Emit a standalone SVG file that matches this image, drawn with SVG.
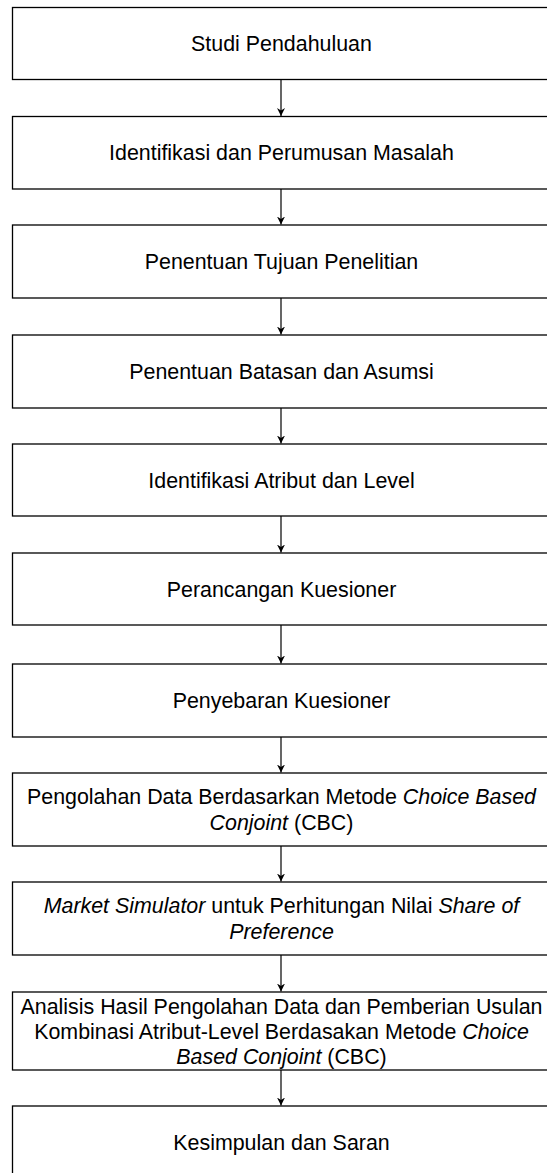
<svg xmlns="http://www.w3.org/2000/svg" width="547" height="1173" viewBox="0 0 547 1173">
<style>
.box{fill:#fff;stroke:#000;stroke-width:1.3}
.t{font-family:"Liberation Sans",Arial,sans-serif;font-size:21.4px;fill:#000;text-anchor:middle}
.i{font-style:italic}
.c{stroke:#000;stroke-width:1.2;fill:none}
</style>
<defs>
<marker id="ah" viewBox="0 0 10 10" refX="10" refY="5" markerWidth="8" markerHeight="8" markerUnits="userSpaceOnUse" orient="auto">
<path d="M0,0 L10,5 L0,10 L3,5 Z" fill="#000"/>
</marker>
</defs>
<rect width="547" height="1173" fill="#fff"/>
<g id="connectors">
<line class="c" x1="281" y1="79.5" x2="281" y2="116" marker-end="url(#ah)"/>
<line class="c" x1="281" y1="189" x2="281" y2="224.5" marker-end="url(#ah)"/>
<line class="c" x1="281" y1="298" x2="281" y2="334.5" marker-end="url(#ah)"/>
<line class="c" x1="281" y1="408" x2="281" y2="443.5" marker-end="url(#ah)"/>
<line class="c" x1="281" y1="516" x2="281" y2="552.5" marker-end="url(#ah)"/>
<line class="c" x1="281" y1="625" x2="281" y2="663.5" marker-end="url(#ah)"/>
<line class="c" x1="281" y1="737" x2="281" y2="772.5" marker-end="url(#ah)"/>
<line class="c" x1="281" y1="846" x2="281" y2="881.5" marker-end="url(#ah)"/>
<line class="c" x1="281" y1="955" x2="281" y2="991.5" marker-end="url(#ah)"/>
<line class="c" x1="281" y1="1070" x2="281" y2="1105.5" marker-end="url(#ah)"/>
</g>
<g id="n1"><rect class="box" x="12.5" y="7.5" width="540" height="72"/><text class="t" x="281.5" y="51">Studi Pendahuluan</text></g>
<g id="n2"><rect class="box" x="12.5" y="116.5" width="540" height="72.5"/><text class="t" x="281.5" y="160.3">Identifikasi dan Perumusan Masalah</text></g>
<g id="n3"><rect class="box" x="12.5" y="225" width="540" height="73"/><text class="t" x="281.5" y="269">Penentuan Tujuan Penelitian</text></g>
<g id="n4"><rect class="box" x="12.5" y="335" width="540" height="73"/><text class="t" x="281.5" y="379">Penentuan Batasan dan Asumsi</text></g>
<g id="n5"><rect class="box" x="12.5" y="444" width="540" height="72"/><text class="t" x="281.5" y="487.5">Identifikasi Atribut dan Level</text></g>
<g id="n6"><rect class="box" x="12.5" y="553" width="540" height="72"/><text class="t" x="281.5" y="596.5">Perancangan Kuesioner</text></g>
<g id="n7"><rect class="box" x="12.5" y="664" width="540" height="73"/><text class="t" x="281.5" y="708">Penyebaran Kuesioner</text></g>
<g id="n8"><rect class="box" x="12.5" y="773" width="540" height="73"/>
<text class="t" x="281.5" y="804.4">Pengolahan Data Berdasarkan Metode <tspan class="i">Choice Based</tspan></text>
<text class="t" x="281.5" y="829.6"><tspan class="i">Conjoint</tspan> (CBC)</text></g>
<g id="n9"><rect class="box" x="12.5" y="882" width="540" height="73"/>
<text class="t" x="281.5" y="913.4"><tspan class="i">Market Simulator</tspan> untuk Perhitungan Nilai <tspan class="i">Share of</tspan></text>
<text class="t" x="281.5" y="938.6"><tspan class="i">Preference</tspan></text></g>
<g id="n10"><rect class="box" x="12.5" y="992" width="540" height="78"/>
<text class="t" x="281.5" y="1013.5">Analisis Hasil Pengolahan Data dan Pemberian Usulan</text>
<text class="t" x="281.5" y="1038.5">Kombinasi Atribut-Level Berdasakan Metode <tspan class="i">Choice</tspan></text>
<text class="t" x="281.5" y="1063.5"><tspan class="i">Based Conjoint</tspan> (CBC)</text></g>
<g id="n11"><rect class="box" x="12.5" y="1106" width="540" height="73"/><text class="t" x="281.5" y="1150">Kesimpulan dan Saran</text></g>
</svg>
